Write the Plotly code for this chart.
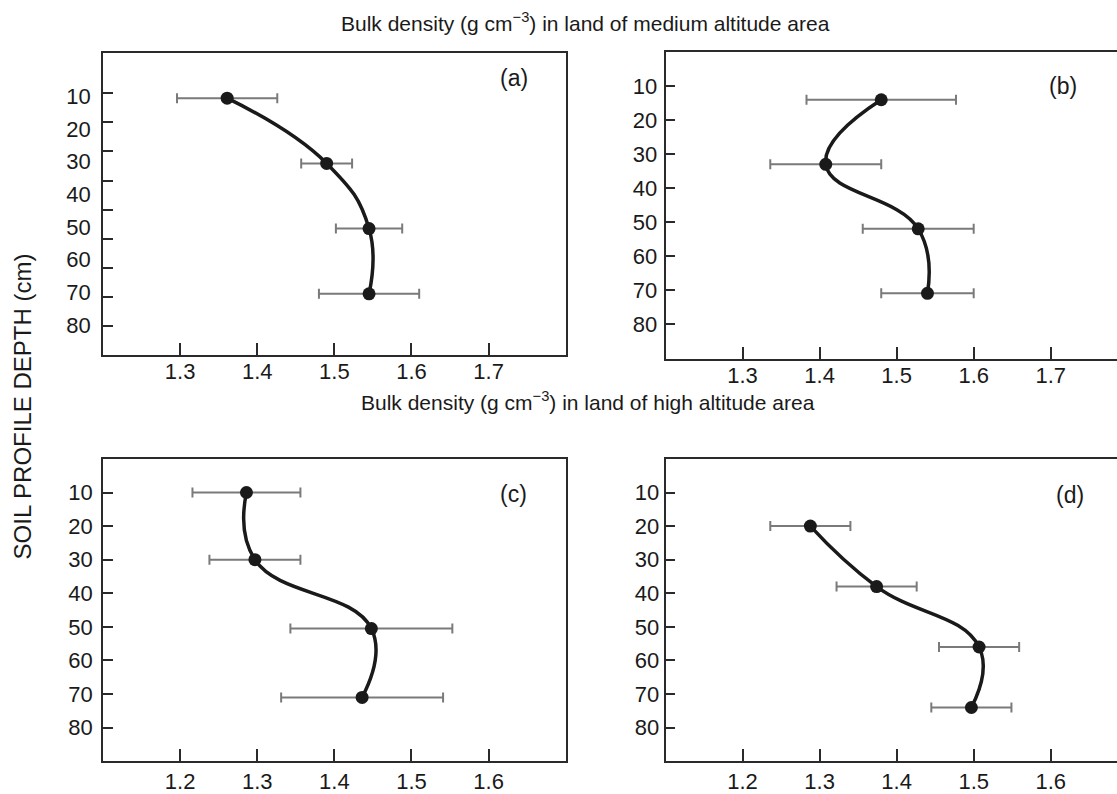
import plotly.graph_objects as go

# ---------------- data ----------------
# Panel (a): medium altitude, site 1
a_density = [1.361, 1.490, 1.545, 1.545]
a_depth = [10.5, 30.5, 50.5, 70.5]
a_err = [0.065, 0.033, 0.043, 0.065]

# Panel (b): medium altitude, site 2
b_density = [1.480, 1.408, 1.528, 1.540]
b_depth = [14, 33, 52, 71]
b_err = [0.097, 0.072, 0.072, 0.060]

# Panel (c): high altitude, site 1
c_density = [1.286, 1.297, 1.448, 1.436]
c_depth = [10, 30, 50.5, 71]
c_err = [0.070, 0.059, 0.105, 0.105]

# Panel (d): high altitude, site 2
d_density = [1.288, 1.374, 1.507, 1.497]
d_depth = [20, 38, 56, 74]
d_err = [0.052, 0.052, 0.052, 0.052]

depth_ticks = [10, 20, 30, 40, 50, 60, 70, 80]
a_tickmarks = [1, 2, 3, 4, 5, 6, 7, 8, 9]
ab_xticks = [1.3, 1.4, 1.5, 1.6, 1.7]
cd_xticks = [1.2, 1.3, 1.4, 1.5, 1.6]

panel_labels = ["(a)", "(b)", "(c)", "(d)"]
title_medium = "Bulk density (g cm<sup>\u22123</sup>) in land of medium altitude area"
title_high = "Bulk density (g cm<sup>\u22123</sup>) in land of high altitude area"
y_title = "SOIL PROFILE DEPTH (cm)"

# ---------------- figure ----------------
W, H = 1117, 794
FONT = "Liberation Sans, Arial, sans-serif"
LINE_C = "#1a1a1a"
ERR_C = "#7a7a7a"
AX_C = "#2a2a2a"

def px(x):
    return x / W

def py(y):
    return 1 - y / H

fig = go.Figure()

panels = [
    ("x", "y", a_density, a_depth, a_err),
    ("x2", "y2", b_density, b_depth, b_err),
    ("x3", "y3", c_density, c_depth, c_err),
    ("x4", "y4", d_density, d_depth, d_err),
]

for xa, ya, dens, dep, err in panels:
    fig.add_trace(go.Scatter(
        x=dens, y=dep, xaxis=xa, yaxis=ya, mode="markers",
        marker=dict(size=1, color="rgba(0,0,0,0)"),
        error_x=dict(type="data", array=err, symmetric=True,
                     color=ERR_C, thickness=2, width=5),
        showlegend=False, hoverinfo="skip"))
    fig.add_trace(go.Scatter(
        x=dens, y=dep, xaxis=xa, yaxis=ya, mode="lines+markers",
        line=dict(color=LINE_C, width=3.5, shape="spline", smoothing=1.3),
        marker=dict(size=13, color=LINE_C),
        showlegend=False))

# invisible trace for the extra tick-mark axis of panel (a)
fig.add_trace(go.Scatter(x=[], y=[], xaxis="x", yaxis="y5",
                         mode="markers", showlegend=False, hoverinfo="skip"))

tickfont = dict(family=FONT, size=22, color="#1a1a1a")

def xaxis(domain, rng, ticks, anchor, standoff):
    return dict(domain=domain, range=rng, tickvals=ticks,
                ticktext=[f"{t:.1f}" for t in ticks],
                ticks="inside", ticklen=12, tickwidth=1.5, tickcolor=AX_C,
                showline=True, linecolor=AX_C, linewidth=1.5, mirror=True,
                showgrid=False, zeroline=False, tickfont=tickfont,
                anchor=anchor, ticklabelstandoff=standoff, fixedrange=True)

def yaxis(domain, rng, anchor, mirror, standoff, ticks="inside"):
    return dict(domain=domain, range=rng, tickvals=depth_ticks,
                ticktext=[str(t) for t in depth_ticks],
                ticks=ticks, ticklen=10, tickwidth=1.5, tickcolor=AX_C,
                showline=True, linecolor=AX_C, linewidth=1.5, mirror=mirror,
                showgrid=False, zeroline=False, tickfont=tickfont,
                anchor=anchor, ticklabelstandoff=standoff, fixedrange=True)

top_y = [py(358.3), py(53)]
top_y_b = [py(361.7), py(52.7)]
bot_y = [py(768), py(463)]
left_x = [px(103), px(565.7)]
right_x = [px(665.5), 1.0]

fig.update_layout(
    xaxis=xaxis(left_x, [1.2, 1.8], ab_xticks, "y", -4),
    yaxis=yaxis(top_y, [89.3, -3.5], "x", True, 6, ticks=""),
    yaxis5=dict(domain=top_y, range=[10.0, -0.4], overlaying="y", anchor="x",
                side="left", tickvals=a_tickmarks, showticklabels=False,
                ticks="inside", ticklen=10, tickwidth=1.5, tickcolor=AX_C,
                showline=False, showgrid=False, zeroline=False, fixedrange=True),
    xaxis2=xaxis(right_x, [1.2, 1.786], ab_xticks, "y2", -4),
    yaxis2=yaxis(top_y_b, [90.2, 0], "x2", False, 2),
    xaxis3=xaxis(left_x, [1.1, 1.7], cd_xticks, "y3", 0),
    yaxis3=yaxis(bot_y, [90, 0], "x3", True, 4),
    xaxis4=xaxis(right_x, [1.1, 1.686], cd_xticks, "y4", 0),
    yaxis4=yaxis(bot_y, [90, 0], "x4", False, 0),
    width=W, height=H,
    margin=dict(l=0, r=0, t=0, b=0),
    paper_bgcolor="white", plot_bgcolor="white",
    showlegend=False,
)

ann_font = dict(family=FONT, size=21, color="#1a1a1a")
annotations = [
    dict(text=title_medium, x=px(585), y=py(22), xref="paper", yref="paper",
         showarrow=False, font=ann_font, xanchor="center", yanchor="middle"),
    dict(text=title_high, x=px(588), y=py(405), xref="paper", yref="paper",
         showarrow=False, font=ann_font, xanchor="center", yanchor="middle"),
    dict(text=y_title, x=px(22), y=py(410), xref="paper", yref="paper",
         showarrow=False, font=dict(family=FONT, size=24, color="#1a1a1a"),
         textangle=-90, xanchor="center", yanchor="middle"),
]
label_pos = [(514, 79), (1063, 87), (513, 498), (1070, 499)]
for lab, (lx, ly) in zip(panel_labels, label_pos):
    annotations.append(dict(text=lab, x=px(lx), y=py(ly), xref="paper",
                            yref="paper", showarrow=False,
                            font=dict(family=FONT, size=23, color="#1a1a1a"),
                            xanchor="center", yanchor="middle"))
fig.update_layout(annotations=annotations)

fig.write_html(
    "out.html",
    config={"displayModeBar": False},
    post_script="document.body.style.margin='0';"
                "document.body.style.overflow='hidden';",
)
